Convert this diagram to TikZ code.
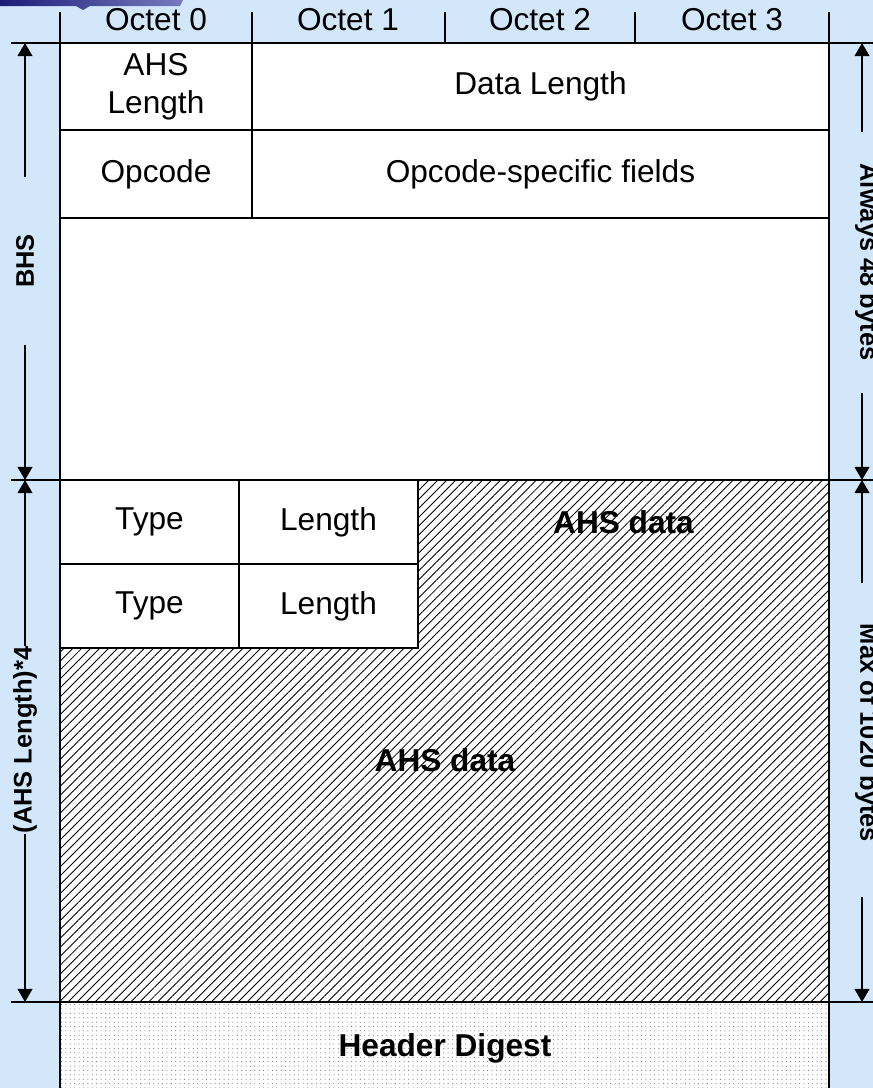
\documentclass[tikz,border=0pt]{standalone}
\usepackage{fontspec}
\setmainfont{Liberation Sans}
\usetikzlibrary{arrows.meta,patterns.meta,positioning}
\definecolor{ink}{HTML}{000000}
\definecolor{bgblue}{HTML}{D2E8FA}
\definecolor{logodark}{HTML}{1C1C78}
\definecolor{logolight}{HTML}{7A7AC0}
\definecolor{dotgray}{HTML}{7A7A7A}
\newcommand{\cellsize}{\fontsize{18}{21.6}\selectfont}
\newcommand{\dimsize}{\fontsize{14.5}{17}\selectfont\bfseries}
\tikzset{
 every node/.append style={font=\cellsize,text=ink,align=center,inner sep=1pt},
 cell/.style={draw=ink,line width=1.1pt,inner sep=0pt},
 frame/.style={draw=ink,line width=1.1pt},
 octtick/.style={draw=ink,line width=.8pt},
 hatch/.style={pattern={Lines[angle=45,distance=3.6pt,line width=.5pt]},pattern color=ink},
 dotsfill/.style={fill=white,postaction={pattern={Dots[radius=.32pt,distance=2.5pt]},pattern color=dotgray}},
 bold/.style={font=\cellsize\bfseries},
 dimtext/.style={font=\dimsize,inner sep=0pt},
 dimline/.style={draw=ink,line width=.8pt},
 dimarrow/.style={dimline,-{Triangle[length=7.5pt,width=8.5pt]}},
}
\begin{document}
\begin{tikzpicture}[x=0.2mm,y=-0.2mm]

\useasboundingbox (0,0) rectangle (873,1088);
\shade[top color=bgblue,middle color=white,bottom color=bgblue] (0,0) rectangle (873,1088);
\shade[left color=logodark,right color=logolight] (0,0) -- (183,0) -- (180,6) -- (90,6) -- (83,10) -- (76,6) -- (0,6) -- cycle;

% octet header
\foreach \x/\n in {156/0,348/1,540/2,732/3}
  \node (oct\n) at (\x,20) {Octet \n};
\foreach \x in {60,252,445,635,829}
  \draw[octtick] (\x,12) -- (\x,43);

% basic header segment
\fill[white] (60,43) rectangle (829,1002);
\node[cell,minimum width=38.4mm,minimum height=17.4mm] (ahslen) at (156,86.5) {AHS\\Length};
\node[cell,minimum width=115.4mm,minimum height=17.4mm] (datalen) at (540.5,86.5) {Data Length};
\node[cell,minimum width=38.4mm,minimum height=17.6mm] (opcode) at (156,174.5) {Opcode};
\node[cell,minimum width=115.4mm,minimum height=17.6mm] (opfields) at (540.5,174.5) {Opcode-specific fields};

% additional header segments
\fill[hatch] (418,480) -- (829,480) -- (829,1002) -- (60,1002) -- (60,648) -- (418,648) -- cycle;
\node[cell,fill=white,minimum width=35.8mm,minimum height=16.8mm] (type1) at (149.5,522) {Type};
\node[cell,fill=white,minimum width=35.8mm,minimum height=16.8mm] (len1) at (328.5,522) {Length};
\node[cell,fill=white,minimum width=35.8mm,minimum height=16.8mm] (type2) at (149.5,606) {Type};
\node[cell,fill=white,minimum width=35.8mm,minimum height=16.8mm] (len2) at (328.5,606) {Length};
\node[bold] (ahsdata1) at (623.5,522) {AHS data};
\node[bold] (ahsdata2) at (445,760) {AHS data};

% header digest
\fill[dotsfill] (60,1002) rectangle (829,1088);
\node[bold] (digest) at (445,1048) {Header Digest};

% frame
\draw[frame] (60,43) -- (60,1088);
\draw[frame] (829,43) -- (829,1088);
\draw[frame] (11,43) -- (873,43);
\draw[frame] (11,480) -- (873,480);
\draw[frame] (11,1002) -- (873,1002);
\draw[frame] (60,218) -- (829,218);

% dimensions, left
\coordinate (bhstop) at (25,43);
\coordinate (bhsbot) at (25,480);
\coordinate (ahsbot) at (25,1002);
\node[dimtext,rotate=90] (bhs) at (25,261) {BHS};
\node[dimtext,rotate=90] (ahslenx) at (25,740) {(AHS Length)*4};
\draw[dimarrow] (25,177) -- (bhstop);
\draw[dimarrow] (25,345) -- (bhsbot);
\draw[dimarrow] (ahslenx.east) -- (bhsbot);
\draw[dimarrow] (ahslenx.west) -- (ahsbot);

% dimensions, right
\coordinate (alwtop) at (862,43);
\coordinate (alwbot) at (862,480);
\coordinate (maxbot) at (862,1002);
\node[dimtext,rotate=-90] (always) at (867,262) {Always 48 bytes};
\node[dimtext,rotate=-90] (maxlen) at (867,733) {Max of 1020 bytes};
\draw[dimarrow] (862,132) -- (alwtop);
\draw[dimarrow] (862,393) -- (alwbot);
\draw[dimarrow] (862,583) -- (alwbot);
\draw[dimarrow] (862,897) -- (maxbot);

\end{tikzpicture}
\end{document}
